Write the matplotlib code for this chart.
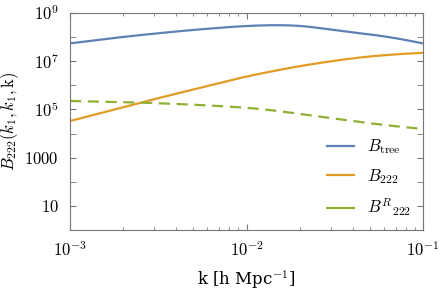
import numpy as np
import matplotlib.pyplot as plt
from matplotlib.lines import Line2D
from matplotlib.ticker import LogLocator, FixedLocator, NullFormatter

plt.rcParams['mathtext.fontset'] = 'cm'
plt.rcParams['font.family'] = 'DejaVu Serif'

# values (log10 k, log10 B)
logk_tree = [-3.0, -2.69, -2.35, -2.01, -1.76, -1.63, -1.44, -1.22, -1.12, -1.0]
logb_tree = [7.74, 8.02, 8.27, 8.47, 8.51, 8.43, 8.22, 8.05, 7.91, 7.74]

logk_222 = [-3.0, -2.5, -2.2, -2.01, -1.725, -1.44, -1.22, -1.0]
logb_222 = [4.52, 5.47, 6.01, 6.36, 6.77, 7.09, 7.26, 7.35]

logk_r = [-3.0, -2.61, -2.3, -2.01, -1.85, -1.725, -1.44, -1.22, -1.0]
logb_r = [5.35, 5.29, 5.20, 5.08, 4.97, 4.84, 4.56, 4.35, 4.19]

blue = '#5E81B5'
orange = '#E19C24'
green = '#8FB032'
gray = '#777777'

fig = plt.figure(figsize=(4.41, 2.92), dpi=100)
ax = fig.add_axes([70/441, 1-230/292, 353/441, 217/292])

def smooth(xs, ys):
    xx = np.linspace(xs[0], xs[-1], 200)
    yy = np.interp(xx, xs, ys)
    n = 12
    k = np.ones(2*n+1) / (2*n+1)
    yp = np.concatenate([2*yy[0] - yy[n:0:-1], yy, 2*yy[-1] - yy[-2:-n-2:-1]])
    yy = np.convolve(yp, k, mode='valid')
    return 10**xx, 10**yy

x, y = smooth(logk_tree, logb_tree)
ax.plot(x, y, color=blue, lw=1.6)
x, y = smooth(logk_222, logb_222)
ax.plot(x, y, color=orange, lw=1.6)
x, y = smooth(logk_r, logb_r)
ax.plot(x, y, color=green, lw=1.6, ls=(0, (5, 3)))

ax.set_xscale('log')
ax.set_yscale('log')
ax.set_xlim(1e-3, 1e-1)
ax.set_ylim(1, 1e9)

ax.yaxis.set_major_locator(FixedLocator([10, 1e3, 1e5, 1e7, 1e9]))
ax.set_yticklabels(['$10$', '$1000$', '$10^5$', '$10^7$', '$10^9$'], fontsize=12)
ax.yaxis.set_minor_locator(FixedLocator([1e2, 1e4, 1e6, 1e8]))
ax.yaxis.set_minor_formatter(NullFormatter())
ax.xaxis.set_major_locator(FixedLocator([1e-3, 1e-2, 1e-1]))
ax.set_xticklabels(['$10^{-3}$', '$10^{-2}$', '$10^{-1}$'], fontsize=12)
ax.xaxis.set_minor_locator(LogLocator(base=10, subs=np.arange(2, 10)))
ax.xaxis.set_minor_formatter(NullFormatter())

ax.tick_params(which='both', direction='in', top=True, right=True, color=gray)
ax.tick_params(which='major', length=4, pad=8)
ax.tick_params(which='minor', length=2.5)
ax.tick_params(axis='y', which='minor', length=4)
for s in ax.spines.values():
    s.set_color(gray)

ax.set_xlabel(r'k [h Mpc$^{-1}$]', fontsize=12, labelpad=6)
ax.set_ylabel(r'$B_{222}(k_1,k_1,\mathrm{k})$', fontsize=12, labelpad=2)

handles = [Line2D([], [], color=blue, lw=1.6),
           Line2D([], [], color=orange, lw=1.6),
           Line2D([], [], color=green, lw=1.6)]
labels = [r'$B_{\rm tree}$', r'$B_{222}$', r'$B^{R}{}_{222}$']
ax.legend(handles, labels, loc='lower right', frameon=False, fontsize=12,
          handlelength=1.6, labelspacing=0.65, borderaxespad=0.3)

fig.savefig('out.png', dpi=100)
